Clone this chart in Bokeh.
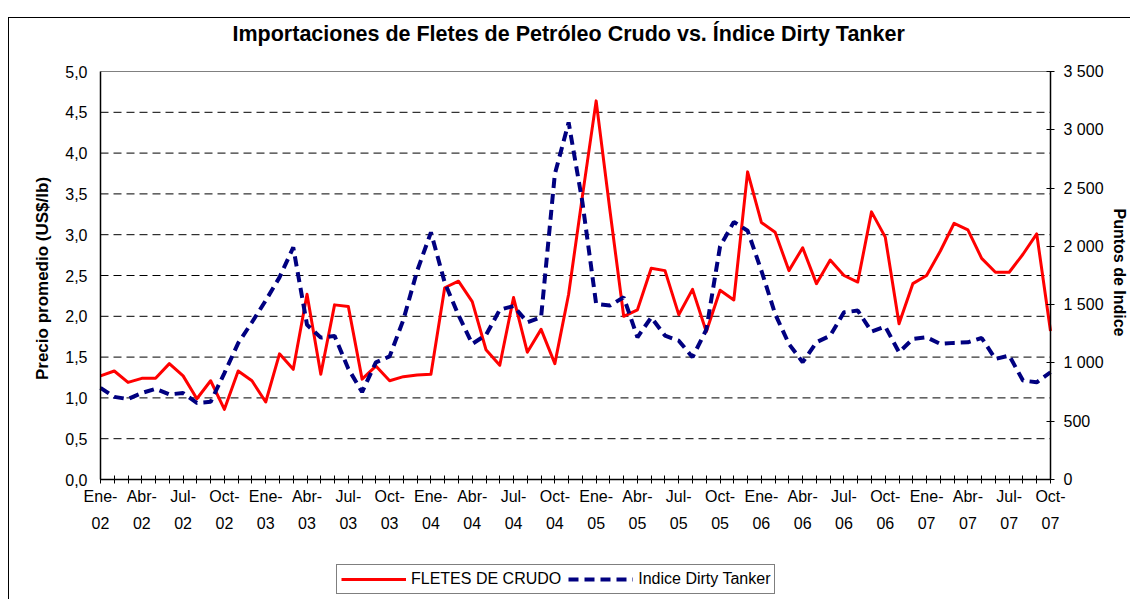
import math
from bokeh.plotting import figure
from bokeh.models import (Range1d, LinearAxis, FixedTicker, CustomJSTickFormatter,
                          Legend, LegendItem, InlineStyleSheet, Label)
from bokeh.embed import file_html
from bokeh.resources import INLINE

# ---------------- data ----------------
meses = ["Ene", "Feb", "Mar", "Abr", "May", "Jun", "Jul", "Ago", "Sep", "Oct", "Nov", "Dic"]
anios = ["02", "03", "04", "05", "06", "07"]
categorias = [f"{m}-{a}" for a in anios for m in meses][:70]   # Ene-02 ... Oct-07

fletes_crudo = [
    1.27, 1.33, 1.19, 1.24, 1.24, 1.42, 1.27, 0.99, 1.21, 0.86,
    1.33, 1.21, 0.95, 1.54, 1.35, 2.27, 1.29, 2.14, 2.12, 1.23,
    1.39, 1.21, 1.26, 1.28, 1.29, 2.35, 2.43, 2.18, 1.59, 1.40,
    2.23, 1.56, 1.84, 1.42, 2.27, 3.47, 4.64, 3.30, 2.00, 2.08,
    2.59, 2.56, 2.02, 2.33, 1.81, 2.32, 2.20, 3.77, 3.15, 3.03,
    2.56, 2.84, 2.40, 2.69, 2.50, 2.42, 3.28, 2.97, 1.91, 2.40,
    2.50, 2.80, 3.14, 3.06, 2.71, 2.54, 2.54, 2.76, 3.01, 1.82,
]

indice_dirty_tanker = [
    786, 709, 690, 742, 778, 730, 742, 657, 666, 913,
    1170, 1349, 1535, 1734, 1991, 1327, 1217, 1232, 950, 750,
    1005, 1056, 1370, 1790, 2120, 1690, 1410, 1163, 1240, 1456,
    1488, 1349, 1391, 2620, 3063, 2380, 1506, 1492, 1563, 1220,
    1391, 1234, 1191, 1049, 1285, 2000, 2210, 2134, 1792, 1420,
    1163, 1006, 1177, 1234, 1434, 1449, 1269, 1312, 1091, 1206,
    1220, 1163, 1172, 1177, 1214, 1034, 1063, 849, 834, 920,
]

etiquetas_mes = [c.split("-")[0] + "-" if i % 3 == 0 else "" for i, c in enumerate(categorias)]
etiquetas_anio = [c.split("-")[1] if i % 3 == 0 else "" for i, c in enumerate(categorias)]

ticks_precio = [0, 0.5, 1.0, 1.5, 2.0, 2.5, 3.0, 3.5, 4.0, 4.5, 5.0]
ticks_indice = [0, 500, 1000, 1500, 2000, 2500, 3000, 3500]

titulo = "Importaciones de Fletes de Petróleo Crudo vs. Índice Dirty Tanker"
titulo_y = "Precio promedio (US$/lb)"
titulo_y2 = "Puntos de Indice"
FONT = "Liberation Sans"

# ---------------- layout ----------------
W, H = 1130, 599
PL, PR = 100, 1050          # pixel position of the plotting area's left / right edge
PT, PB = 71, 479            # pixel position of the plotting area's top / bottom edge
FT = 58                     # top of the drawing frame (room for the top tick labels)
YMAX, IMAX = 5.0, 3500.0
n = len(categorias)
x = list(range(n))

sx = (PR - PL) / (n - 1)            # px per month
sy = (PB - PT) / YMAX               # px per price unit
x_lo, x_hi = -PL / sx, (n - 1) + (W - PR) / sx
y_lo = -(H - PB) / sy
y_hi = YMAX + (PT - FT) / sy

p = figure(frame_width=W, frame_height=H - FT,
           x_range=Range1d(x_lo, x_hi), y_range=Range1d(y_lo, y_hi),
           output_backend="svg", toolbar_location=None,
           min_border_left=0, min_border_right=0,
           min_border_top=FT, min_border_bottom=0,
           background_fill_color="white", border_fill_color="white")
p.extra_y_ranges = {"idx": Range1d(y_lo * IMAX / YMAX, y_hi * IMAX / YMAX)}
p.outline_line_color = None
p.xgrid.visible = False
p.ygrid.visible = False

def px_to_x(px):
    return (px - PL) / sx

def px_to_y(py):
    return (PB - py) / sy

# outer chart border (left and top edges of the chart area)
p.stylesheets = [InlineStyleSheet(css="""
:host { position: relative; }
:host::after { content: ""; position: absolute; left: 8px; top: 17px; right: 0; bottom: 0;
               border-left: 1px solid #000; border-top: 1px solid #000;
               pointer-events: none; }
""")]

# title
p.title.text = titulo
p.title.align = "left"
p.title.offset = 232
p.title.standoff = 26
p.title.text_font = FONT
p.title.text_font_style = "bold"
p.title.text_font_size = "21.5px"
p.title.text_color = "black"

# horizontal gridlines (dashed) at the price ticks, top edge solid gray
grid_ticks = ticks_precio[1:-1]
p.multi_line(xs=[[0, n - 1] for _ in grid_ticks], ys=[[t, t] for t in grid_ticks],
             line_color="black", line_width=1, line_dash="8 5")
p.line([0, n - 1], [ticks_precio[-1], ticks_precio[-1]], line_color="#808080", line_width=1)

# left axis
yax = p.yaxis[0]
yax.fixed_location = 0
yax.bounds = (0, YMAX)
yax.ticker = FixedTicker(ticks=ticks_precio)
yax.formatter = CustomJSTickFormatter(code="return tick.toFixed(1).replace('.', ',');")
yax.major_tick_in = 0
yax.major_tick_out = 0
yax.minor_tick_line_color = None
yax.major_label_standoff = 13
yax.major_label_text_font = FONT
yax.major_label_text_font_size = "16px"
yax.major_label_text_color = "black"
yax.axis_line_color = "black"
yax.axis_line_width = 1.5

# bottom axis (month part)
xax = p.xaxis[0]
xax.fixed_location = 0
xax.bounds = (0, n - 1)
xax.ticker = FixedTicker(ticks=x)
xax.formatter = CustomJSTickFormatter(args=dict(labels=etiquetas_mes),
                                      code="return labels[Math.round(tick)] || '';")
xax.major_tick_in = 4
xax.major_tick_out = 4
xax.minor_tick_line_color = None
xax.major_label_standoff = 4
xax.major_label_text_font = FONT
xax.major_label_text_font_size = "16px"
xax.major_label_text_color = "black"
xax.axis_line_color = "black"
xax.axis_line_width = 1.5
xax.major_label_orientation = "horizontal"

# bottom axis (year part)
xax2 = LinearAxis(fixed_location=0, bounds=(0, n - 1),
                  ticker=FixedTicker(ticks=[i for i in x if etiquetas_anio[i]]),
                  formatter=CustomJSTickFormatter(args=dict(labels=etiquetas_anio),
                                                  code="return labels[Math.round(tick)] || '';"))
xax2.axis_line_color = None
xax2.major_tick_line_color = None
xax2.minor_tick_line_color = None
xax2.major_tick_in = 0
xax2.major_tick_out = 0
xax2.major_label_standoff = 37
xax2.major_label_text_font = FONT
xax2.major_label_text_font_size = "16px"
xax2.major_label_text_color = "black"
p.add_layout(xax2, "below")

# right axis
rax = LinearAxis(y_range_name="idx", fixed_location=n - 1, bounds=(0, IMAX),
                 ticker=FixedTicker(ticks=ticks_indice),
                 formatter=CustomJSTickFormatter(code="""
                     if (tick >= 1000) {
                         const r = String(tick % 1000).padStart(3, '0');
                         return Math.floor(tick / 1000) + ' ' + r;
                     }
                     return String(tick);"""))
rax.major_tick_in = 4
rax.major_tick_out = 4
rax.minor_tick_line_color = None
rax.major_label_standoff = 9
rax.major_label_text_font = FONT
rax.major_label_text_font_size = "16px"
rax.major_label_text_color = "black"
rax.axis_line_color = "black"
rax.axis_line_width = 1.5
p.add_layout(rax, "right")

# axis titles
p.add_layout(Label(x=px_to_x(42), y=px_to_y(278), text=titulo_y, angle=math.pi / 2,
                   text_align="center", text_baseline="middle", text_font=FONT,
                   text_font_style="bold", text_font_size="17px", text_color="black"))
p.add_layout(Label(x=px_to_x(1119), y=px_to_y(272), text=titulo_y2, angle=-math.pi / 2,
                   text_align="center", text_baseline="middle", text_font=FONT,
                   text_font_style="bold", text_font_size="16px", text_color="black"))

# series
r1 = p.line(x, fletes_crudo, line_color="#FF0000", line_width=3, line_join="round")
r2 = p.line(x, indice_dirty_tanker, y_range_name="idx", line_color="#000080",
            line_width=4, line_dash="10 6")

# legend
legend = Legend(items=[LegendItem(label="FLETES DE CRUDO", renderers=[r1]),
                       LegendItem(label="Indice Dirty Tanker", renderers=[r2])],
                orientation="horizontal", location=(336, 5))
legend.label_text_font = FONT
legend.label_text_font_size = "16px"
legend.label_text_color = "black"
legend.glyph_width = 65
legend.glyph_height = 20
legend.label_height = 20
legend.label_standoff = 5
legend.spacing = 7
legend.padding = 4
legend.margin = 0
legend.border_line_color = "black"
legend.border_line_width = 1
legend.background_fill_color = "white"
legend.background_fill_alpha = 1
p.add_layout(legend)

open("out.html", "w").write(file_html(p, INLINE))
